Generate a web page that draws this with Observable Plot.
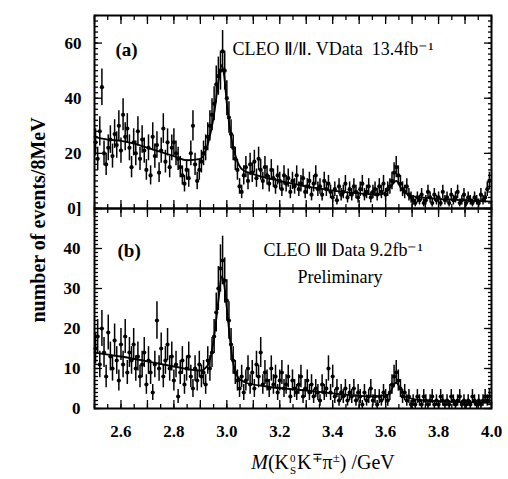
<!DOCTYPE html>
<html><head><meta charset="utf-8">
<script src="https://cdn.jsdelivr.net/npm/d3@7"></script>
<script src="https://cdn.jsdelivr.net/npm/@observablehq/plot@0.6"></script>
<style>
body{margin:0;background:#fff;}
#wrap{position:relative;width:508px;height:479px;overflow:hidden;font-family:"Liberation Serif",serif;color:#000;background:#fff;}
#a,#b{position:absolute;left:0;}
#a{top:0;z-index:2;}#b{top:208px;z-index:1;}
#ylab{position:absolute;left:38px;top:220px;transform:translate(-50%,-50%) rotate(-90deg);font-size:20px;font-weight:bold;white-space:nowrap;}
#xlab{position:absolute;left:323px;top:463px;transform:translate(-50%,-50%);font-size:20px;white-space:nowrap;}
.ss{display:inline-flex;flex-direction:column;font-size:11px;line-height:12px;vertical-align:middle;margin:0 1px;}
.sp{font-size:13px;vertical-align:7px;}
</style></head>
<body>
<div id="wrap">
<div id="a"></div><div id="b"></div>
<div id="ylab">number of events/8MeV</div>
<div id="xlab"><i>M</i>(K<span class="ss"><span>0</span><span>S</span></span>K<span class="sp">∓</span>π<span class="sp">±</span>) /GeV</div>
</div>
<script>
// 8 MeV bins from 2.5 GeV
const binStart = 2.5, binWidth = 0.008;

// Panel (a): CLEO II/II.V counts per bin
const countsA = [24,18,28,44,20,16,22,25,19,27,23,30,21,
34,26,29,22,15,24,20,28,18,25,21,14,
22,12,26,19,23,13,21,29,17,24,15,22,
24,20,18,15,12,9,14,11,20,30,16,10,14,
17,20,22,26,30,34,38,45,48,50,57,50,40,33,27,22,18,14,8,
6,12,15,10,16,13,17,11,18,14,10,15,12,9,14,11,8,12,
10,7,12,9,11,6,10,8,12,7,9,11,6,8,10,5,9,12,7,8,5,10,7,9,6,
4,7,3,8,5,6,9,4,7,5,8,6,4,7,9,5,6,8,4,6,7,5,8,6,9,5,7,8,10,13,15,12,9,7,6,8,5,4,
3,2,4,3,5,2,3,6,4,2,5,3,4,2,6,3,4,2,5,3,4,6,2,3,5,2,4,3,2,4,3,2,5,3,4,7,10];

// Panel (a) fit curve
const fitAMass = [2.50,2.55,2.60,2.65,2.70,2.75,2.80,2.85,2.90,2.93,2.95,2.97,2.98,2.99,3.00,3.02,3.04,3.06,3.10,3.20,3.30,3.40,3.50,3.58,3.62,3.64,3.66,3.70,3.80,3.90,4.00];
const fitAValue = [26,25,24.5,23.5,22,20.5,19,17.5,18,24,33,47,52,48,38,24,17,14,12.5,10,8,6.5,5.5,5,8,10,7,4.5,3.5,3,2.5];

// Panel (b): CLEO III counts per bin
const countsB = [15,18,11,20,14,8,19,13,10,17,12,7,16,
11,18,9,14,12,16,10,13,8,11,14,6,
12,9,4,11,22,10,15,8,12,16,10,13,
7,11,3,9,12,6,10,13,8,5,10,7,11,
8,9,6,12,10,14,18,24,30,35,37,32,27,22,16,12,9,7,5,
8,4,7,10,6,9,5,11,8,14,6,9,7,5,10,6,8,4,
7,9,5,6,8,3,7,5,4,6,8,3,5,7,4,6,3,5,4,2,6,4,5,10,4,
8,3,5,2,4,3,5,2,4,3,5,2,4,3,1,4,2,3,5,2,3,1,3,2,4,3,2,4,6,8,9,7,5,3,4,2,3,1,
2,1,3,2,1,3,2,1,2,3,1,2,1,3,2,1,2,1,3,2,1,2,3,1,2,1,2,1,3,2,1,2,1,2,3,2,3];

// Panel (b) fit curve
const fitBMass = [2.50,2.60,2.70,2.80,2.90,2.93,2.95,2.97,2.98,2.99,3.00,3.02,3.04,3.07,3.15,3.30,3.40,3.55,3.61,3.64,3.67,3.75,3.90,4.00];
const fitBValue = [14,13,11.8,10.5,9.5,11,17,28,33,31,25,13,8,6.5,5.5,4.5,3.8,3,3.5,6.5,3,2,1.6,1.4];

// Tick labels
const xLabelTicks = [2.6,2.8,3.0,3.2,3.4,3.6,3.8,4.0];
const yLabelTicksA = [0,20,40,60];
const yLabelTicksB = [0,10,20,30,40];

const xMajor = d3.range(0,16).map(i => 2.5 + 0.1*i);
const xMinor = d3.range(0,31).map(i => 2.5 + 0.05*i);

function rows(counts){
  return counts.map((c,i)=>({m: binStart + binWidth*(i+0.5), c, lo: c - Math.sqrt(c), hi: c + Math.sqrt(c)}));
}
function fitRows(ms, vs){ return ms.map((m,i)=>({m, v: vs[i]})); }

function tickAxes(yMinor, yMajor){
  const none = () => "";
  const o = {tickFormat: none, label: null, strokeWidth: 1.3};
  return [
    Plot.axisX({...o, anchor:"bottom", ticks:xMinor, tickSize:-4}),
    Plot.axisX({...o, anchor:"bottom", ticks:xMajor, tickSize:-8}),
    Plot.axisX({...o, anchor:"top", ticks:xMinor, tickSize:-4}),
    Plot.axisX({...o, anchor:"top", ticks:xMajor, tickSize:-8}),
    Plot.axisY({...o, anchor:"left", ticks:yMinor, tickSize:-4}),
    Plot.axisY({...o, anchor:"left", ticks:yMajor, tickSize:-8}),
    Plot.axisY({...o, anchor:"right", ticks:yMinor, tickSize:-4}),
    Plot.axisY({...o, anchor:"right", ticks:yMajor, tickSize:-8})
  ];
}

function note(t, dx, dy, size, weight){
  return Plot.text([t], {frameAnchor:"top-left", dx, dy, text: d=>d, textAnchor:"start", fontSize:size, fontWeight:weight, fill:"black"});
}

const style = {fontFamily:"Liberation Serif", fontSize:"17px", color:"#000", background:"transparent", overflow:"visible"};

const dataA = rows(countsA);
const plotA = Plot.plot({
  width:508, height:208, marginTop:15, marginBottom:0, marginLeft:94, marginRight:17,
  style,
  x:{domain:[2.5,4.0], axis:null},
  y:{domain:[0,70], axis:null},
  marks:[
    ...tickAxes(d3.range(0,36).map(i=>2*i), [0,20,40,60]),
    Plot.axisY({anchor:"left", ticks:yLabelTicksA, tickSize:0, tickPadding:13, tickFormat: d => d===0 ? "0]" : String(d), label:null, fontWeight:"bold", fontSize:17}),
    Plot.ruleX(dataA, {x:"m", y1:"lo", y2:"hi", strokeWidth:1.5}),
    Plot.dot(dataA, {x:"m", y:"c", r:2.1, fill:"black"}),
    Plot.line(fitRows(fitAMass, fitAValue), {x:"m", y:"v", curve:"monotone-x", strokeWidth:1.8}),
    note("(a)", 21, 27, 19, "bold"),
    note("CLEO Ⅱ/Ⅱ. VData  13.4fb⁻¹", 138, 27, 18, "normal"),
    Plot.frame({strokeWidth:2})
  ]
});
document.getElementById("a").appendChild(plotA);

const dataB = rows(countsB);
const plotB = Plot.plot({
  width:508, height:271, marginTop:0, marginBottom:71, marginLeft:94, marginRight:17,
  style,
  x:{domain:[2.5,4.0], axis:null},
  y:{domain:[0,50], axis:null},
  marks:[
    ...tickAxes(d3.range(0,51), [0,10,20,30,40,50]),
    Plot.axisY({anchor:"left", ticks:yLabelTicksB, tickSize:0, tickPadding:14, tickFormat: d => String(d), label:null, fontWeight:"bold", fontSize:17}),
    Plot.axisX({anchor:"bottom", ticks:xLabelTicks, tickSize:0, tickPadding:16, tickFormat: d3.format(".1f"), label:null, fontWeight:"bold", fontSize:17}),
    Plot.ruleX(dataB, {x:"m", y1:"lo", y2:"hi", strokeWidth:1.5}),
    Plot.dot(dataB, {x:"m", y:"c", r:2.1, fill:"black"}),
    Plot.line(fitRows(fitBMass, fitBValue), {x:"m", y:"v", curve:"monotone-x", strokeWidth:1.8}),
    note("(b)", 23, 35, 19, "bold"),
    note("CLEO Ⅲ Data 9.2fb⁻¹", 169, 35, 18, "normal"),
    note("Preliminary", 203, 62, 18, "normal"),
    Plot.frame({strokeWidth:2})
  ]
});
document.getElementById("b").appendChild(plotB);
</script>
</body></html>
